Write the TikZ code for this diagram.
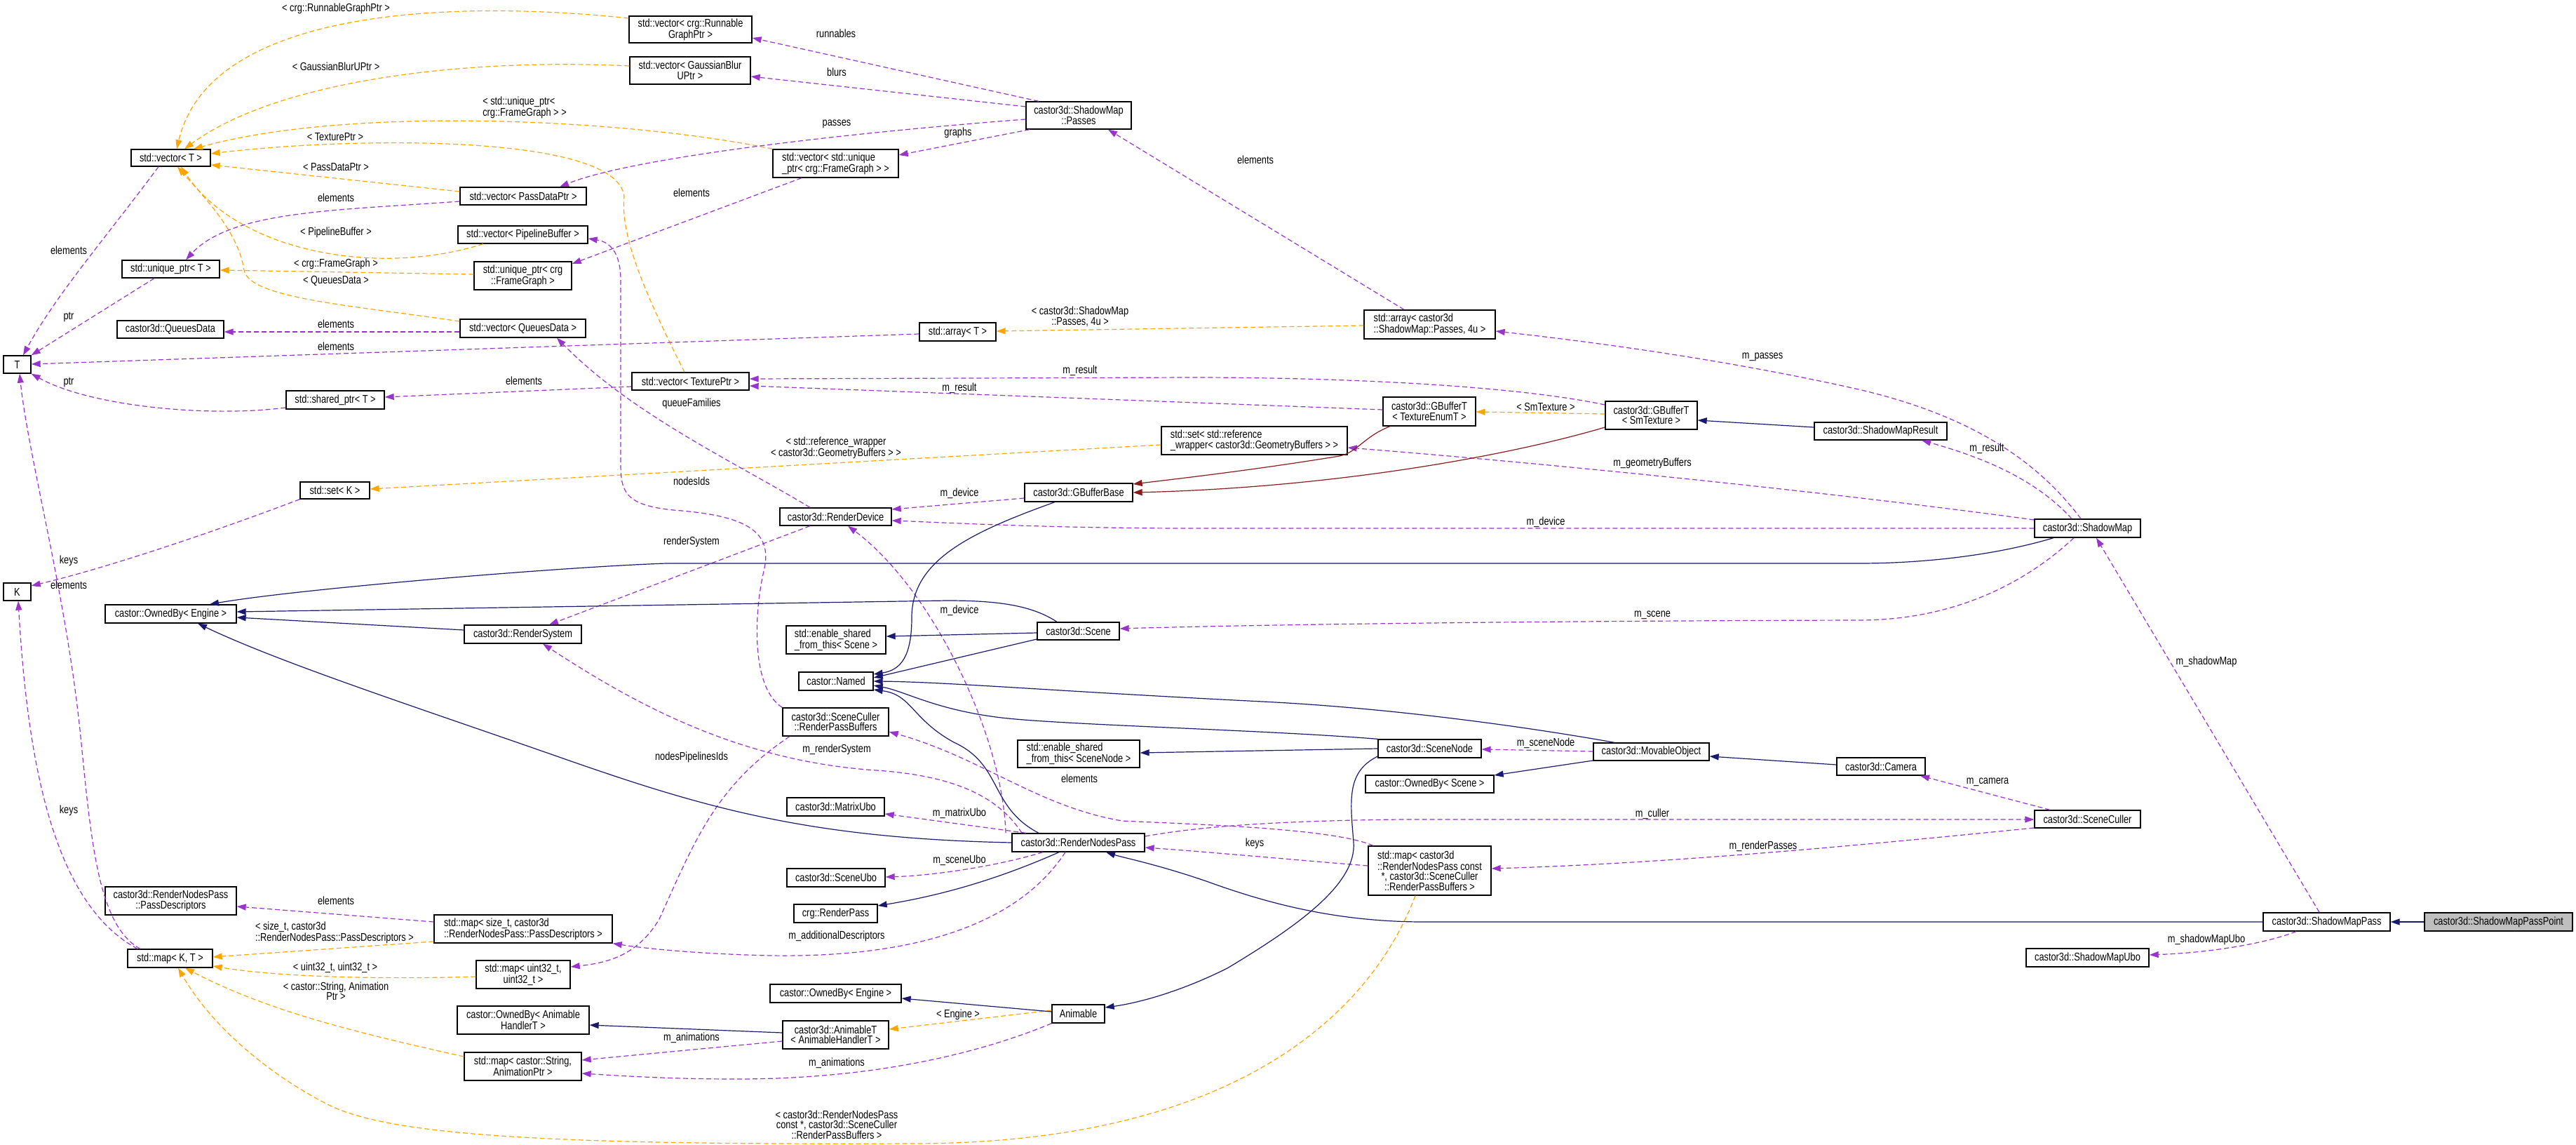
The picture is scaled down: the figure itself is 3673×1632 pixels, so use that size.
\documentclass[tikz,border=0pt]{standalone}
\usepackage{fontspec}
\setmainfont{Liberation Sans}[FakeStretch=0.8]
\usetikzlibrary{arrows.meta}
\definecolor{dorange}{HTML}{FFA500}
\definecolor{dpurple}{HTML}{9A32CD}
\definecolor{dnavy}{HTML}{191970}
\definecolor{dred}{HTML}{8B1A1A}
\definecolor{dgrey}{HTML}{BFBFBF}
\newcommand\dfont{\fontsize{16}{14.5}\selectfont}
\tikzset{
  box/.style={draw=black, line width=1.3pt, inner sep=0pt, font=\dfont, align=center, fill=white},
  lab/.style={font=\dfont, inner sep=0pt, align=center},
  arrtip/.style={-{Triangle[length=13pt,width=9pt]}},
  mem/.style={draw=dpurple, line width=1.2pt, dash pattern=on 7pt off 4pt, arrtip},
  tmpl/.style={draw=dorange, line width=1.2pt, dash pattern=on 7pt off 4pt, arrtip},
  inh/.style={draw=dnavy, line width=1.2pt, arrtip},
  inhr/.style={draw=dred, line width=1.2pt, arrtip},
}
\begin{document}
\begin{tikzpicture}[x=1pt,y=-1pt]
\useasboundingbox[fill=white] (0,0) rectangle (3673,1632);
% ---------------- nodes ----------------
\node[box,minimum width=175,minimum height=38] (vRun) at (984.5,42) {std::vector< crg::Runnable\\GraphPtr >};
\node[box,minimum width=172,minimum height=39] (vBlur) at (984,100.5) {std::vector< GaussianBlur\\UPtr >};
\node[box,minimum width=150,minimum height=39] (smPasses) at (1538,164.5) {castor3d::ShadowMap\\::Passes};
\node[box,minimum width=113,minimum height=24] (vT) at (243.5,225) {std::vector< T >};
\node[box,minimum width=179,minimum height=40,align=left] (vUFG) at (1191.5,233) {std::vector< std::unique\\\_ptr< crg::FrameGraph > >};
\node[box,minimum width=180,minimum height=25] (vPass) at (746,279.5) {std::vector< PassDataPtr >};
\node[box,minimum width=185,minimum height=25] (vPipe) at (745.5,334.5) {std::vector< PipelineBuffer >};
\node[box,minimum width=139,minimum height=25] (uT) at (243.5,383.5) {std::unique\_ptr< T >};
\node[box,minimum width=139,minimum height=40] (uFG) at (745.5,393) {std::unique\_ptr< crg\\::FrameGraph >};
\node[box,minimum width=152,minimum height=25] (qd) at (243,469.5) {castor3d::QueuesData};
\node[box,minimum width=179,minimum height=26] (vQ) at (745.5,468) {std::vector< QueuesData >};
\node[box,minimum width=39,minimum height=25] (T) at (24.5,519.5) {T};
\node[box,minimum width=140,minimum height=26] (shT) at (478,570) {std::shared\_ptr< T >};
\node[box,minimum width=109,minimum height=26] (aT) at (1365.5,473) {std::array< T >};
\node[box,minimum width=187,minimum height=41,align=left] (aSM) at (2038.5,462.5) {std::array< castor3d\\::ShadowMap::Passes, 4u >};
\node[box,minimum width=167,minimum height=25] (vTex) at (984.5,543.5) {std::vector< TexturePtr >};
\node[box,minimum width=132,minimum height=41] (gbTE) at (2038,586.5) {castor3d::GBufferT\\< TextureEnumT >};
\node[box,minimum width=131,minimum height=40] (gbSM) at (2354.5,592) {castor3d::GBufferT\\< SmTexture >};
\node[box,minimum width=189,minimum height=25] (smRes) at (2681.5,614.5) {castor3d::ShadowMapResult};
\node[box,minimum width=265,minimum height=40,align=left] (setRW) at (1788.5,628) {std::set< std::reference\\\_wrapper< castor3d::GeometryBuffers > >};
\node[box,minimum width=99,minimum height=24] (setK) at (477.5,699) {std::set< K >};
\node[box,minimum width=154,minimum height=26] (gbBase) at (1538,702) {castor3d::GBufferBase};
\node[box,minimum width=159,minimum height=25] (rDev) at (1191.5,736.5) {castor3d::RenderDevice};
\node[box,minimum width=151,minimum height=26] (sMap) at (2976.5,753) {castor3d::ShadowMap};
\node[box,minimum width=39,minimum height=25] (K) at (24.5,843.5) {K};
\node[box,minimum width=187,minimum height=26] (obE) at (243.5,875) {castor::OwnedBy< Engine >};
\node[box,minimum width=167,minimum height=26] (rSys) at (745.5,904) {castor3d::RenderSystem};
\node[box,minimum width=117,minimum height=25] (scene) at (1537.5,899.5) {castor3d::Scene};
\node[box,minimum width=142,minimum height=40,align=left] (esScene) at (1192,912) {std::enable\_shared\\\_from\_this< Scene >};
\node[box,minimum width=106,minimum height=26] (named) at (1192,971) {castor::Named};
\node[box,minimum width=151,minimum height=40] (rpb) at (1191.5,1029) {castor3d::SceneCuller\\::RenderPassBuffers};
\node[box,minimum width=174,minimum height=39,align=left] (esNode) at (1538,1074.5) {std::enable\_shared\\\_from\_this< SceneNode >};
\node[box,minimum width=147,minimum height=26] (sNode) at (2038.5,1067) {castor3d::SceneNode};
\node[box,minimum width=165,minimum height=25] (movObj) at (2354.5,1071.5) {castor3d::MovableObject};
\node[box,minimum width=183,minimum height=25] (obScene) at (2038.5,1117.5) {castor::OwnedBy< Scene >};
\node[box,minimum width=126,minimum height=25] (camera) at (2682,1092.5) {castor3d::Camera};
\node[box,minimum width=139,minimum height=26] (mUbo) at (1191.5,1150) {castor3d::MatrixUbo};
\node[box,minimum width=189,minimum height=26] (rnp) at (1537.5,1201) {castor3d::RenderNodesPass};
\node[box,minimum width=151,minimum height=25] (sCuller) at (2976.5,1167.5) {castor3d::SceneCuller};
\node[box,minimum width=175,minimum height=70] (mapRNP) at (2038.5,1241) {\rlap{std::map< castor3d}\phantom{::RenderNodesPass const}\\::RenderNodesPass const\\*, castor3d::SceneCuller\\::RenderPassBuffers >};
\node[box,minimum width=140,minimum height=26] (sUbo) at (1192,1251) {castor3d::SceneUbo};
\node[box,minimum width=119,minimum height=26] (rPass) at (1191.5,1302) {crg::RenderPass};
\node[box,minimum width=187,minimum height=40] (passDesc) at (243.5,1284) {castor3d::RenderNodesPass\\::PassDescriptors};
\node[box,minimum width=254,minimum height=40,align=left] (mapSz) at (746,1324) {std::map< size\_t, castor3d\\::RenderNodesPass::PassDescriptors >};
\node[box,minimum width=121,minimum height=26] (mapKT) at (242.5,1366) {std::map< K, T >};
\node[box,minimum width=134,minimum height=40] (mapU) at (746,1389) {std::map< uint32\_t,\\uint32\_t >};
\node[box,minimum width=181,minimum height=26] (smPass) at (3317.5,1314) {castor3d::ShadowMapPass};
\node[box,minimum width=211,minimum height=26,fill=dgrey] (smPP) at (3562.5,1314) {castor3d::ShadowMapPassPoint};
\node[box,minimum width=175,minimum height=26] (smUbo) at (2976.5,1365) {castor3d::ShadowMapUbo};
\node[box,minimum width=187,minimum height=26] (obE2) at (1191.5,1416) {castor::OwnedBy< Engine >};
\node[box,minimum width=75,minimum height=26] (anim) at (1537.5,1445) {Animable};
\node[box,minimum width=188,minimum height=40] (obAH) at (746,1454) {castor::OwnedBy< Animable\\HandlerT >};
\node[box,minimum width=151,minimum height=40] (animT) at (1191.5,1475) {castor3d::AnimableT\\< AnimableHandlerT >};
\node[box,minimum width=167,minimum height=40] (mapStr) at (745.5,1520) {std::map< castor::String,\\AnimationPtr >};
% ---------------- template edges (orange) ----------------
\draw[tmpl] (vRun.west |- 0,26) .. controls (650,0) and (300,10) .. (vT.north -| 252,0);
\draw[tmpl] (vBlur.west |- 0,94) .. controls (650,82) and (390,118) .. (vT.north -| 263,0);
\draw[tmpl] (vUFG.north west) .. controls (900,170) and (500,150) .. (vT.north -| 276,0);
\draw[tmpl] (vTex.north -| 976,0) .. controls (910,400) and (885,330) .. (890,280) .. controls (880,190) and (500,195) .. (vT.east |- 0,219);
\draw[tmpl] (vPass.west |- 0,273) -- (vT.east |- 0,235);
\draw[tmpl] (vPipe.south -| 689,0) .. controls (540,395) and (340,360) .. (vT.south -| 258,0);
\draw[tmpl] (uFG.west |- 0,391) -- (uT.east |- 0,385);
\draw[tmpl] (vQ.west |- 0,458) .. controls (500,435) and (355,425) .. (348,385) .. controls (340,330) and (290,280) .. (vT.south -| 253,0);
\draw[tmpl] (aSM.west |- 0,464) -- (aT.east |- 0,472);
\draw[tmpl] (setRW.west |- 0,634) -- (setK.east |- 0,697);
\draw[tmpl] (gbSM.west |- 0,590) -- (gbTE.east |- 0,587);
\draw[tmpl] (mapSz.west |- 0,1342) -- (mapKT.east |- 0,1364);
\draw[tmpl] (mapU.west |- 0,1392) .. controls (550,1396) and (400,1393) .. (mapKT.east |- 0,1377);
\draw[tmpl] (mapStr.west |- 0,1506) .. controls (500,1470) and (380,1440) .. (mapKT.south -| 264,0);
\draw[tmpl] (mapRNP.south -| 2018,0) .. controls (1960,1430) and (1780,1630) .. (1300,1630) .. controls (800,1632) and (560,1620) .. (469,1575) .. controls (380,1530) and (300,1460) .. (mapKT.south -| 254,0);
\draw[tmpl] (anim.west |- 0,1440) -- (animT.east |- 0,1467);
% ---------------- member edges (purple) ----------------
\draw[mem] (smPasses.north -| 1481,0) -- (vRun.east |- 0,54);
\draw[mem] (smPasses.west |- 0,152) -- (vBlur.east |- 0,109);
\draw[mem] (smPasses.west |- 0,170) .. controls (1200,190) and (900,225) .. (vPass.north -| 798,0);
\draw[mem] (smPasses.south -| 1468,0) -- (vUFG.east |- 0,221);
\draw[mem] (vUFG.south -| 1143,0) -- (uFG.east |- 0,376);
\draw[mem] (vPass.west |- 0,287) .. controls (480,300) and (330,300) .. (uT.north -| 265,0);
\draw[mem] (vT.south -| 226,0) .. controls (150,340) and (80,420) .. (T.north -| 33,0);
\draw[mem] (uT.south -| 220,0) -- (T.north east);
\draw[mem] (vQ.west |- 0,473) -- (qd.east |- 0,473);
\draw[mem] (aT.west |- 0,476) -- (T.east |- 0,519);
\draw[mem] (shT.west |- 0,581) .. controls (300,595) and (130,580) .. (T.south east);
\draw[mem] (vTex.west |- 0,551) -- (shT.east |- 0,566);
\draw[mem] (mapKT.north -| 200,0) .. controls (140,1320) and (130,1200) .. (115,1050) .. controls (95,850) and (40,650) .. (T.south -| 28,0);
\draw[mem] (setK.south west) .. controls (300,760) and (150,810) .. (K.east |- 0,835);
\draw[mem] (mapKT.north -| 196,0) .. controls (80,1290) and (40,1100) .. (K.south -| 26,0);
\draw[mem] (aSM.north -| 2002,0) -- (smPasses.south -| 1580,0);
\draw[mem] (sMap.north -| 2967,0) .. controls (2900,650) and (2800,590) .. (2650,555) .. controls (2450,510) and (2250,485) .. (aSM.east |- 0,472);
\draw[mem] (gbTE.west |- 0,584) -- (vTex.east |- 0,550);
\draw[mem] (gbSM.west |- 0,577) .. controls (2150,548) and (1900,538) .. (1700,538) -- (vTex.east |- 0,540);
\draw[mem] (sMap.north -| 2954,0) .. controls (2900,680) and (2820,650) .. (smRes.south -| 2740,0);
\draw[mem] (sMap.west |- 0,741) .. controls (2600,700) and (2200,660) .. (setRW.east |- 0,638);
\draw[mem] (sMap.west) -- (1700,753) .. controls (1500,753) and (1350,745) .. (rDev.east |- 0,742);
\draw[mem] (gbBase.west |- 0,710) -- (rDev.east |- 0,726);
\draw[mem] (rDev.north -| 1155,0) .. controls (1050,660) and (900,590) .. (vQ.south -| 794,0);
\draw[mem] (rDev.south -| 1155,0) -- (rSys.north -| 783,0);
\draw[mem] (rnp.north -| 1434,0) .. controls (1430,1050) and (1330,840) .. (rDev.south -| 1209,0);
\draw[mem] (sMap.south -| 2957,0) .. controls (2900,820) and (2800,884) .. (2650,884) .. controls (2200,885) and (1800,890) .. (scene.east |- 0,896);
\draw[mem] (rnp.north -| 1457,0) .. controls (1420,1130) and (1350,1105) .. (1250,1098) .. controls (1050,1085) and (900,1000) .. (rSys.south -| 774,0);
\draw[mem] (rpb.north west) .. controls (1070,980) and (1075,870) .. (1090,810) .. controls (1100,760) and (1070,735) .. (960,727) .. controls (890,720) and (885,700) .. (885,660) -- (885,400) .. controls (885,360) and (870,345) .. (vPipe.east |- 0,340);
\draw[mem] (rpb.south -| 1126,0) .. controls (1020,1120) and (990,1200) .. (940,1310) .. controls (910,1360) and (870,1372) .. (mapU.east |- 0,1378);
\draw[mem] (mapRNP.north -| 1958,0) .. controls (1900,1180) and (1700,1175) .. (1600,1170) .. controls (1480,1150) and (1400,1080) .. (rpb.east |- 0,1043);
\draw[mem] (mapRNP.west |- 0,1234) .. controls (1850,1226) and (1720,1214) .. (rnp.east |- 0,1208);
\draw[mem] (rnp.north -| 1463,0) -- (mUbo.east |- 0,1160);
\draw[mem] (rnp.south -| 1487,0) .. controls (1420,1235) and (1330,1248) .. (sUbo.east |- 0,1250);
\draw[mem] (rnp.south -| 1519,0) .. controls (1450,1320) and (1300,1365) .. (1100,1362) .. controls (1000,1360) and (920,1352) .. (mapSz.south east);
\draw[mem] (mapSz.west |- 0,1314) -- (passDesc.east |- 0,1292);
\draw[mem] (rnp.east |- 0,1192) .. controls (1700,1180) and (1800,1170) .. (2000,1168) -- (sCuller.west |- 0,1168);
\draw[mem] (sCuller.west |- 0,1180) .. controls (2700,1200) and (2400,1230) .. (mapRNP.east |- 0,1238);
\draw[mem] (sCuller.north -| 2923,0) -- (camera.south -| 2738,0);
\draw[mem] (movObj.west |- 0,1071) -- (sNode.east |- 0,1068);
\draw[mem] (smPass.north -| 3307,0) -- (sMap.south -| 2989,0);
\draw[mem] (smPass.south -| 3274,0) .. controls (3230,1345) and (3150,1358) .. (smUbo.east |- 0,1361);
\draw[mem] (animT.west |- 0,1484) -- (mapStr.east |- 0,1511);
\draw[mem] (anim.south west) .. controls (1400,1500) and (1250,1538) .. (1050,1538) .. controls (950,1538) and (880,1533) .. (mapStr.east |- 0,1530);
% ---------------- inheritance (navy / dark red) ----------------
\draw[inh] (sMap.south -| 2928,0) .. controls (2850,790) and (2750,803) .. (2650,803) -- (950,803) .. controls (800,808) and (420,840) .. (obE.north -| 299,0);
\draw[inh] (scene.north -| 1507,0) .. controls (1470,862) and (1420,856) .. (1350,856) -- (obE.east |- 0,872);
\draw[inh] (rSys.west |- 0,898) -- (obE.east |- 0,880);
\draw[inh] (rnp.west) .. controls (1150,1195) and (1000,1150) .. (800,1080) .. controls (600,1010) and (400,945) .. (obE.south -| 282,0);
\draw[inh] (scene.west |- 0,902) -- (esScene.east |- 0,907);
\draw[inh] (scene.west |- 0,911) -- (named.east |- 0,966);
\draw[inh] (gbBase.south -| 1504,0) .. controls (1380,760) and (1300,800) .. (1300,880) .. controls (1300,935) and (1285,955) .. (named.east |- 0,961);
\draw[inh] (movObj.north -| 2302,0) .. controls (2200,1040) and (2000,1010) .. (1800,1000) .. controls (1500,985) and (1350,972) .. (named.east |- 0,971);
\draw[inh] (sNode.north west) .. controls (1800,1040) and (1500,1033) .. (1420,1022) .. controls (1330,1010) and (1290,985) .. (named.east |- 0,977);
\draw[inh] (sNode.west |- 0,1067) -- (esNode.east |- 0,1073);
\draw[inh] (rnp.north -| 1481,0) .. controls (1410,1150) and (1430,1090) .. (1360,1058) .. controls (1300,1025) and (1300,990) .. (named.east |- 0,983);
\draw[inh] (movObj.west |- 0,1084) -- (obScene.east |- 0,1105);
\draw[inh] (camera.west |- 0,1090) -- (movObj.east |- 0,1078);
\draw[inh] (rnp.south -| 1510,0) .. controls (1430,1250) and (1350,1275) .. (rPass.east |- 0,1291);
\draw[inh] (smPass.west) -- (2030,1314) .. controls (1900,1314) and (1800,1285) .. (1720,1256) .. controls (1650,1232) and (1600,1222) .. (rnp.south -| 1577,0);
\draw[inh] (smPP.west) -- (smPass.east);
\draw[inh] (sNode.west |- 0,1078) .. controls (1920,1100) and (1925,1140) .. (1930,1200) .. controls (1935,1260) and (1850,1320) .. (1750,1380) .. controls (1680,1415) and (1620,1430) .. (anim.east |- 0,1436);
\draw[inh] (anim.west |- 0,1442) -- (obE2.east |- 0,1423);
\draw[inh] (animT.west |- 0,1472) -- (obAH.east |- 0,1461);
\draw[inh] (smRes.west |- 0,609) -- (gbSM.east |- 0,599);
\draw[inhr] (gbTE.south -| 1982,0) .. controls (1945,622) and (1935,645) .. (1910,650) .. controls (1800,668) and (1700,680) .. (gbBase.east |- 0,690);
\draw[inhr] (gbSM.west |- 0,609) .. controls (2150,650) and (1900,695) .. (gbBase.east |- 0,702);
% ---------------- labels ----------------
\node[lab] (l01) at (479,12) {< crg::RunnableGraphPtr >};
\node[lab] (l02) at (479,95) {< GaussianBlurUPtr >};
\node[lab,align=left] (l03) at (748,153) {< std::unique\_ptr<\\crg::FrameGraph > >};
\node[lab] (l04) at (478,195) {< TexturePtr >};
\node[lab] (l05) at (479,238) {< PassDataPtr >};
\node[lab] (l06) at (479,282) {elements};
\node[lab] (l07) at (479,331) {< PipelineBuffer >};
\node[lab] (l08) at (98,357) {elements};
\node[lab] (l09) at (479,376) {< crg::FrameGraph >};
\node[lab] (l10) at (479,400) {< QueuesData >};
\node[lab] (l11) at (98,452) {ptr};
\node[lab] (l12) at (479,462) {elements};
\node[lab] (l13) at (479,494) {elements};
\node[lab] (l14) at (98,545) {ptr};
\node[lab] (l15) at (747,543) {elements};
\node[lab] (l16) at (98,799) {keys};
\node[lab] (l17) at (98,834) {elements};
\node[lab] (l18) at (98,1155) {keys};
\node[lab] (l19) at (479,1284) {elements};
\node[lab,align=left] (l20) at (477,1329) {< size\_t, castor3d\\::RenderNodesPass::PassDescriptors >};
\node[lab] (l21) at (478,1379) {< uint32\_t, uint32\_t >};
\node[lab] (l22) at (479,1413) {< castor::String, Animation\\Ptr >};
\node[lab] (l23) at (1192,48) {runnables};
\node[lab] (l24) at (1193,103) {blurs};
\node[lab] (l25) at (1193,177) {passes};
\node[lab] (l26) at (1366,189) {graphs};
\node[lab] (l27) at (986,275) {elements};
\node[lab] (l28) at (1790,228) {elements};
\node[lab] (l29) at (1540,451) {< castor3d::ShadowMap\\::Passes, 4u >};
\node[lab] (l30) at (1540,528) {m\_result};
\node[lab] (l31) at (1368,553) {m\_result};
\node[lab] (l32) at (986,575) {queueFamilies};
\node[lab] (l33) at (1192,638) {< std::reference\_wrapper\\< castor3d::GeometryBuffers > >};
\node[lab] (l34) at (986,686) {nodesIds};
\node[lab] (l35) at (1368,703) {m\_device};
\node[lab] (l36) at (986,772) {renderSystem};
\node[lab] (l37) at (1368,870) {m\_device};
\node[lab] (l38) at (1193,1068) {m\_renderSystem};
\node[lab] (l39) at (986,1079) {nodesPipelinesIds};
\node[lab] (l40) at (1539,1110) {elements};
\node[lab] (l41) at (1368,1159) {m\_matrixUbo};
\node[lab] (l42) at (1789,1202) {keys};
\node[lab] (l43) at (1368,1226) {m\_sceneUbo};
\node[lab] (l44) at (1193,1334) {m\_additionalDescriptors};
\node[lab] (l45) at (1366,1446) {< Engine >};
\node[lab] (l46) at (986,1479) {m\_animations};
\node[lab] (l47) at (1193,1515) {m\_animations};
\node[lab] (l48) at (1193,1603) {< castor3d::RenderNodesPass\\const *, castor3d::SceneCuller\\::RenderPassBuffers >};
\node[lab] (l49) at (2513,509) {m\_passes};
\node[lab] (l50) at (2204,580) {< SmTexture >};
\node[lab] (l51) at (2356,660) {m\_geometryBuffers};
\node[lab] (l52) at (2204,744) {m\_device};
\node[lab] (l53) at (2356,877) {m\_scene};
\node[lab] (l54) at (2204,1059) {m\_sceneNode};
\node[lab] (l55) at (2356,1160) {m\_culler};
\node[lab] (l56) at (2514,1206) {m\_renderPasses};
\node[lab] (l57) at (2833,639) {m\_result};
\node[lab] (l58) at (2834,1115) {m\_camera};
\node[lab] (l59) at (3146,943) {m\_shadowMap};
\node[lab] (l60) at (3146,1339) {m\_shadowMapUbo};
\end{tikzpicture}
\end{document}
